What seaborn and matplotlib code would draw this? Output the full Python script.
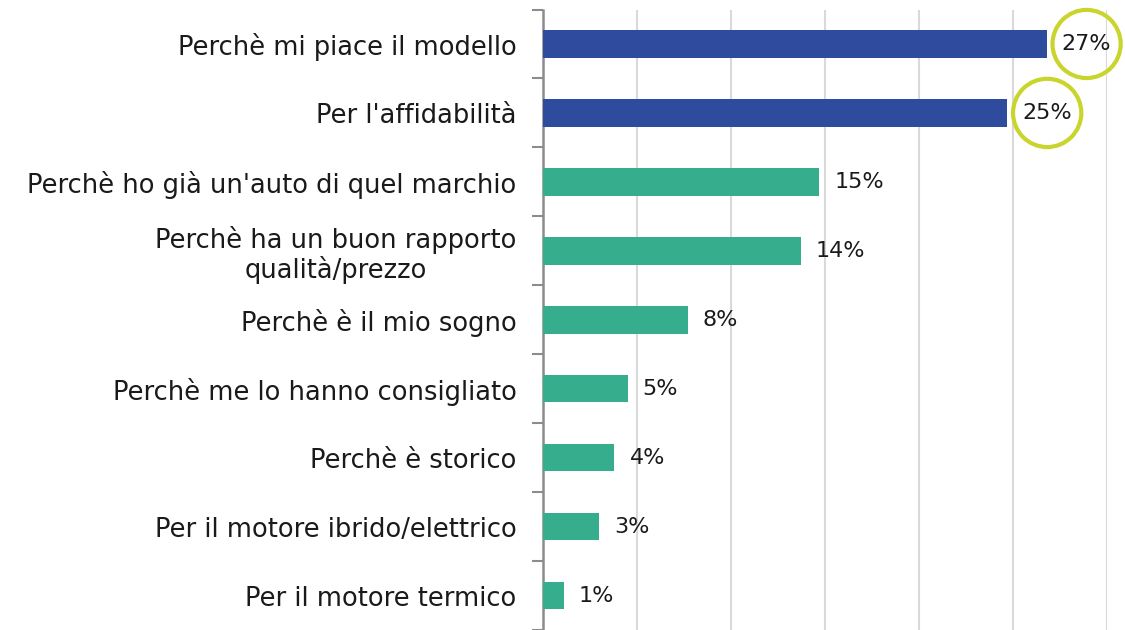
import matplotlib
matplotlib.use('Agg')
import matplotlib.pyplot as plt
import seaborn as sns
import pandas as pd

categories = [
    "Perchè mi piace il modello",
    "Per l'affidabilità",
    "Perchè ho già un'auto di quel marchio",
    "Perchè ha un buon rapporto\nqualità/prezzo",
    "Perchè è il mio sogno",
    "Perchè me lo hanno consigliato",
    "Perchè è storico",
    "Per il motore ibrido/elettrico",
    "Per il motore termico",
]
values = [26.8, 24.7, 14.7, 13.7, 7.7, 4.5, 3.8, 3.0, 1.1]
labels = ["27%", "25%", "15%", "14%", "8%", "5%", "4%", "3%", "1%"]
highlighted = [True, True, False, False, False, False, False, False, False]

blue = '#2F4B9D'
green = '#36AD8C'
ring = '#C9D52C'
colors = [blue if h else green for h in highlighted]

df = pd.DataFrame({'motivo': categories, 'valore': values})

sns.set_style('white')
plt.rcParams['font.family'] = ['DejaVu Sans']

fig = plt.figure(figsize=(11.25, 6.3), dpi=100)
ax = fig.add_axes([543 / 1125, 0.0, (1107 - 543) / 1125, 1 - 9.5 / 630])

sns.barplot(data=df, x='valore', y='motivo', hue='motivo', palette=colors,
            legend=False, width=0.4, saturation=1, linewidth=0, ax=ax, zorder=3)

ax.set_xlim(0, 30)
ax.set_ylim(len(categories) - 0.5, -0.5)
ax.set_xticks(range(0, 31, 5))
ax.set_xticklabels([])
ax.tick_params(axis='x', length=0)
ax.grid(axis='x', color='#d9d9d9', linewidth=1.5, zorder=0)
ax.set_axisbelow(True)

# category labels at bar centres, tick marks at boundaries
ax.set_yticks(range(len(categories)))
ax.set_yticklabels(categories, fontsize=18.5, color='#1a1a1a')
for t in ax.get_yticklabels():
    t.set_multialignment('center')
    t.set_linespacing(1.1)
ax.tick_params(axis='y', which='major', left=False, length=0, pad=19)
ax.set_yticks([i - 0.5 for i in range(len(categories) + 1)], minor=True)
ax.tick_params(axis='y', which='minor', left=True, length=8, width=1.5,
               color='#8c8c8c')

ax.set_xlabel('')
ax.set_ylabel('')
for s in ['top', 'right', 'bottom']:
    ax.spines[s].set_visible(False)
ax.spines['left'].set_color('#8c8c8c')
ax.spines['left'].set_linewidth(1.8)

for i, (v, lab, h) in enumerate(zip(values, labels, highlighted)):
    kw = {}
    if h:
        kw['bbox'] = dict(boxstyle='circle,pad=0.42', fc='none', ec=ring, lw=3)
    ax.annotate(lab, xy=(v, i), xytext=(15, 0), textcoords='offset pixels',
                ha='left', va='center', fontsize=16, color='#1a1a1a',
                annotation_clip=False, **kw)

fig.savefig('out.png', dpi=100)
